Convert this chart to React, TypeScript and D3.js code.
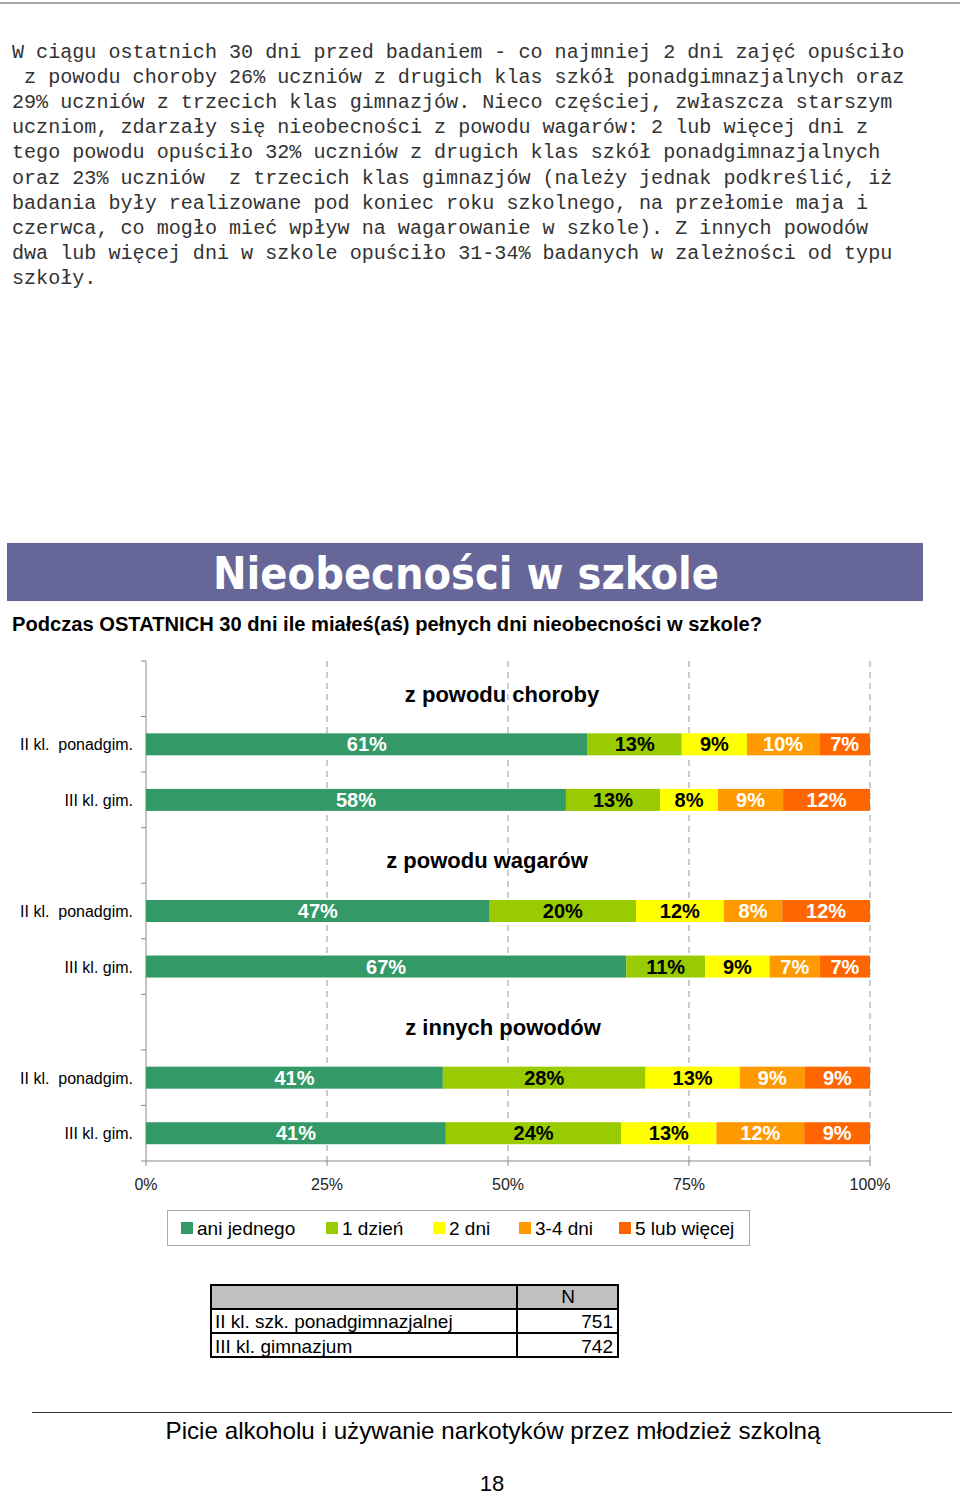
import React from "react";
import * as d3 from "d3";

const paragraph = [
  "W ciągu ostatnich 30 dni przed badaniem - co najmniej 2 dni zajęć opuściło",
  " z powodu choroby 26% uczniów z drugich klas szkół ponadgimnazjalnych oraz",
  "29% uczniów z trzecich klas gimnazjów. Nieco częściej, zwłaszcza starszym",
  "uczniom, zdarzały się nieobecności z powodu wagarów: 2 lub więcej dni z",
  "tego powodu opuściło 32% uczniów z drugich klas szkół ponadgimnazjalnych",
  "oraz 23% uczniów  z trzecich klas gimnazjów (należy jednak podkreślić, iż",
  "badania były realizowane pod koniec roku szkolnego, na przełomie maja i",
  "czerwca, co mogło mieć wpływ na wagarowanie w szkole). Z innych powodów",
  "dwa lub więcej dni w szkole opuściło 31-34% badanych w zależności od typu",
  "szkoły.",
];

const categories = ["ani jednego", "1 dzień", "2 dni", "3-4 dni", "5 lub więcej"];
const colors = ["#339966", "#99cc00", "#ffff00", "#ff9900", "#ff6600"];
const labelColors = ["#ffffff", "#000000", "#000000", "#ffffff", "#ffffff"];
const groups = ["z powodu choroby", "z powodu wagarów", "z innych powodów"];
const groupCenters = [502, 487, 503];
const schools = ["II kl.  ponadgim.", "III kl. gim."];
const choroby = [[61, 13, 9, 10, 7], [58, 13, 8, 9, 12]];
const wagary = [[47, 20, 12, 8, 12], [67, 11, 9, 7, 7]];
const inne = [[41, 28, 13, 9, 9], [41, 24, 13, 12, 9]];
const groupValues = [choroby, wagary, inne];
const xTicks = [0, 25, 50, 75, 100];
const tableRows = ["II kl. szk. ponadgimnazjalnej", "III kl. gimnazjum"];
const tableN = [751, 742];

const FONT = "'Liberation Sans', Arial, sans-serif";

export default function App() {
  const x = d3.scaleLinear().domain([0, 100]).range([146, 870]);
  const rowIds = d3.range(9).map(String);
  const y = d3.scaleBand().domain(rowIds).range([661, 1161]).padding(0);
  const bw = y.bandwidth();
  const barH = 22;

  const bars: any[] = [];
  const labels: any[] = [];
  groups.forEach((g, gi) => {
    const titleRow = String(gi * 3);
    labels.push(
      <text key={"g" + gi} x={groupCenters[gi]} y={(y(titleRow) as number) + bw / 2 + 13}
        textAnchor="middle" fontFamily={FONT} fontWeight="bold" fontSize={22} fill="#000">{g}</text>
    );
    groupValues[gi].forEach((vals, si) => {
      const row = String(gi * 3 + 1 + si);
      const cy = (y(row) as number) + bw / 2;
      const total = d3.sum(vals);
      let cum = 0;
      labels.push(
        <text key={"s" + gi + si} x={133} y={cy + 6} textAnchor="end" fontFamily={FONT}
          fontSize={16} fill="#000" xmlSpace="preserve" style={{ whiteSpace: "pre" }}>{schools[si]}</text>
      );
      vals.forEach((v, ci) => {
        const x0 = x((cum / total) * 100);
        const x1 = x(((cum + v) / total) * 100);
        cum += v;
        bars.push(
          <rect key={`b${gi}${si}${ci}`} x={x0} y={cy - barH / 2} width={x1 - x0} height={barH} fill={colors[ci]} />
        );
        bars.push(
          <text key={`t${gi}${si}${ci}`} x={(x0 + x1) / 2} y={cy + 7} textAnchor="middle"
            fontFamily={FONT} fontWeight="bold" fontSize={20} fill={labelColors[ci]}>{v + "%"}</text>
        );
      });
    });
  });

  const legendX = [181, 326, 433, 519, 619];

  return (
    <svg width={960} height={1497} style={{ position: "absolute", left: 0, top: 0, background: "#fff" }}>
      <line x1={0} x2={960} y1={3} y2={3} stroke="#888" strokeWidth={1.5} />
      {paragraph.map((line, i) => (
        <text key={"p" + i} x={12} y={58 + i * 25.1} fontFamily="'Liberation Mono', 'Courier New', monospace"
          fontSize={20.1} fill="#333" style={{ whiteSpace: "pre" }} xmlSpace="preserve">{line}</text>
      ))}

      <rect x={7} y={543} width={916} height={58} fill="#666699" />
      <text x={466} y={589} textAnchor="middle" fontFamily="'DejaVu Sans', Verdana, sans-serif" fontWeight="bold"
        fontSize={44} fill="#fff" textLength={506} lengthAdjust="spacingAndGlyphs">Nieobecności w szkole</text>
      <text x={12} y={631} fontFamily={FONT} fontWeight="bold" fontSize={20} fill="#000"
        textLength={750} lengthAdjust="spacingAndGlyphs">Podczas OSTATNICH 30 dni ile miałeś(aś) pełnych dni nieobecności w szkole?</text>

      {/* grid */}
      {xTicks.slice(1).map((t) => (
        <line key={"gl" + t} x1={x(t)} x2={x(t)} y1={661} y2={1161} stroke="#999" strokeWidth={1} strokeDasharray="6,5" />
      ))}
      {/* left axis */}
      <line x1={146} x2={146} y1={661} y2={1161} stroke="#888" strokeWidth={1} />
      {d3.range(10).map((i) => {
        const yy = i < 9 ? (y(String(i)) as number) : 1161;
        return <line key={"lt" + i} x1={141} x2={146} y1={yy} y2={yy} stroke="#888" />;
      })}
      <line x1={146} x2={870} y1={1161} y2={1161} stroke="#888" strokeWidth={1} />
      {xTicks.map((t) => (
        <g key={"xt" + t}>
          <line x1={x(t)} x2={x(t)} y1={1161} y2={1166} stroke="#888" />
          <text x={x(t)} y={1190} textAnchor="middle" fontFamily={FONT} fontSize={16} fill="#222">{t + "%"}</text>
        </g>
      ))}

      {bars}
      {labels}

      {/* legend */}
      <rect x={167.5} y={1210.5} width={582} height={35} fill="#fff" stroke="#aaa" strokeWidth={1} />
      {categories.map((c, i) => (
        <g key={"lg" + i}>
          <rect x={legendX[i]} y={1222} width={12} height={12} fill={colors[i]} />
          <text x={legendX[i] + 16} y={1235} fontFamily={FONT} fontSize={19} fill="#000">{c}</text>
        </g>
      ))}

      {/* table */}
      <rect x={211} y={1285} width={407} height={23} fill="#c0c0c0" />
      <rect x={211} y={1285} width={407} height={72} fill="none" stroke="#000" strokeWidth={2} />
      <line x1={211} x2={618} y1={1309} y2={1309} stroke="#000" strokeWidth={2} />
      <line x1={211} x2={618} y1={1333} y2={1333} stroke="#000" strokeWidth={2} />
      <line x1={517} x2={517} y1={1285} y2={1357} stroke="#000" strokeWidth={2} />
      <text x={568} y={1303} textAnchor="middle" fontFamily={FONT} fontSize={19} fill="#000">N</text>
      {tableRows.map((r, i) => (
        <g key={"tr" + i}>
          <text x={215} y={1328 + i * 25} fontFamily={FONT} fontSize={19} fill="#000">{r}</text>
          <text x={613} y={1328 + i * 25} textAnchor="end" fontFamily={FONT} fontSize={19} fill="#000">{tableN[i]}</text>
        </g>
      ))}

      {/* footer */}
      <line x1={32} x2={952} y1={1412.5} y2={1412.5} stroke="#333" strokeWidth={1} />
      <text x={493} y={1439} textAnchor="middle" fontFamily={FONT} fontSize={24} fill="#000"
        textLength={655} lengthAdjust="spacingAndGlyphs">Picie alkoholu i używanie narkotyków przez młodzież szkolną</text>
      <text x={492} y={1491} textAnchor="middle" fontFamily={FONT} fontSize={22} fill="#000">18</text>
    </svg>
  );
}
